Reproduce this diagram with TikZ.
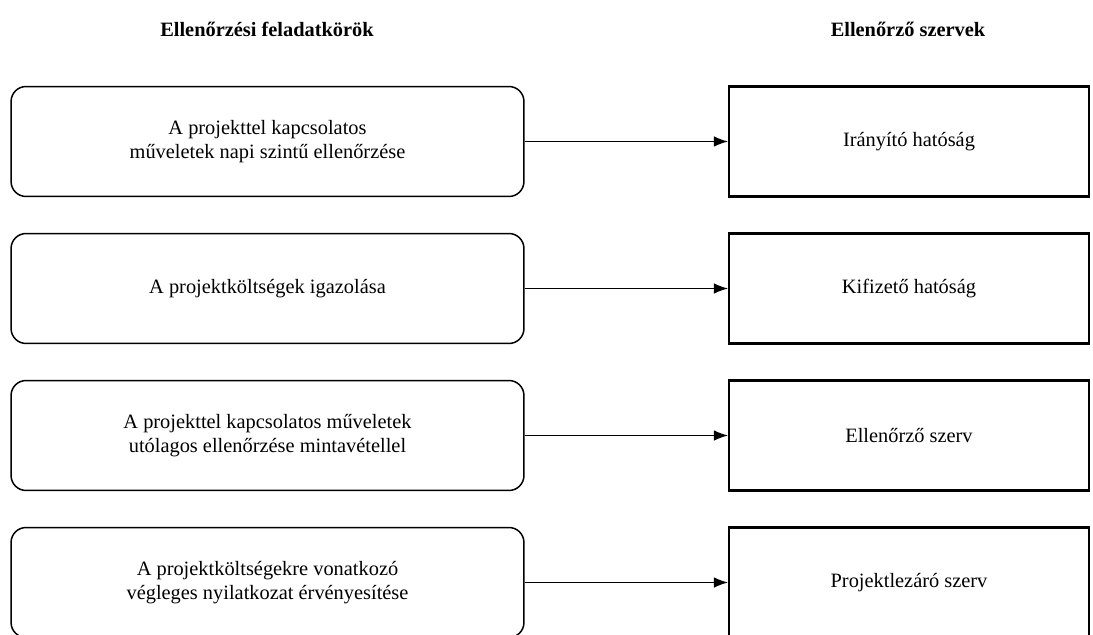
\documentclass[tikz,border=0pt]{standalone}
\usepackage{fontspec}
\setmainfont{Liberation Serif}
\usetikzlibrary{arrows.meta}

\begin{document}
\begin{tikzpicture}[x=0.02cm, y=-0.02cm,
    every node/.style={font=\fontsize{11.6}{14}\selectfont},
    head/.style={font=\fontsize{11.6}{14}\selectfont\bfseries},
    taskbox/.style={draw, line width=0.85pt, rounded corners=0.3cm,
        minimum width=10.26cm, minimum height=2.2cm, align=center},
    bodybox/.style={draw, line width=1.3pt,
        minimum width=7.2cm, minimum height=2.2cm, align=center},
    link/.style={-{Latex[length=8pt,width=6pt]}, line width=0.55pt}]
        \useasboundingbox (0,0) rectangle (1093,635);
        \node[head] (hleft) at (267,29) {Ellenőrzési feladatkörök};
        \node[head] (hright) at (908,29) {Ellenőrző szervek};
        \foreach \i/\task/\body in {
            1/{A projekttel kapcsolatos\\műveletek napi szintű ellenőrzése}/{Irányító hatóság},
            2/{A projektköltségek igazolása}/{Kifizető hatóság},
            3/{A projekttel kapcsolatos műveletek\\utólagos ellenőrzése mintavétellel}/{Ellenőrző szerv},
            4/{A projektköltségekre vonatkozó\\végleges nyilatkozat érvényesítése}/{Projektlezáró szerv}}
        {
        \pgfmathsetmacro{\rowy}{141.5+147*(\i-1)}
        \node[taskbox] (task\i) at (267.5,\rowy) {\task};
        \node[bodybox] (body\i) at (909,\rowy) {\body};
        \draw[link] (task\i.east) -- (body\i.west);
        }
    \end{tikzpicture}
\end{document}
